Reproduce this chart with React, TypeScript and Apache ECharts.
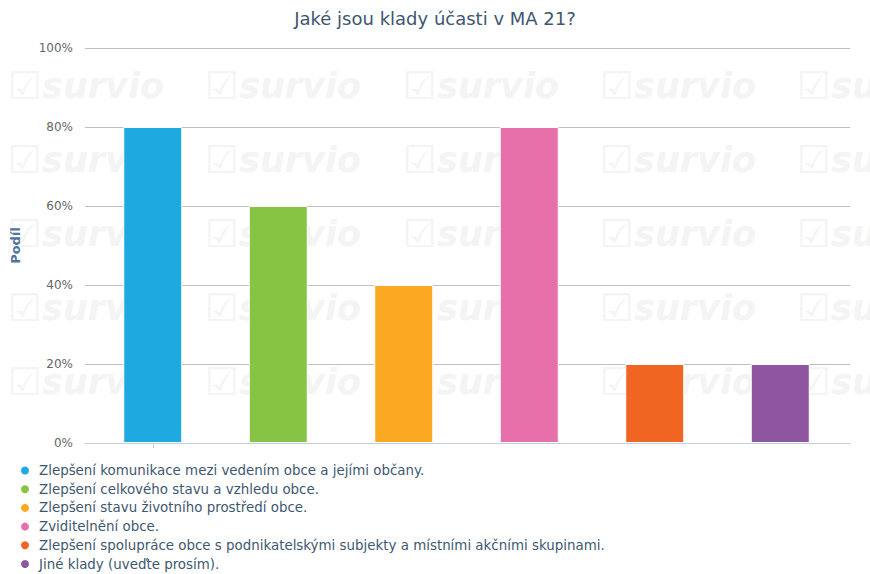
import React, { useEffect, useRef } from "react";
import * as echarts from "echarts";

const categories = [
  "Zlepšení komunikace mezi vedením obce a jejími občany.",
  "Zlepšení celkového stavu a vzhledu obce.",
  "Zlepšení stavu životního prostředí obce.",
  "Zviditelnění obce.",
  "Zlepšení spolupráce obce s podnikatelskými subjekty a místními akčními skupinami.",
  "Jiné klady (uveďte prosím).",
];
const values = [80, 60, 40, 80, 20, 20];
const colors = ["#1ea9e1", "#88c444", "#fba922", "#e76faa", "#f16522", "#8e55a1"];
const yTicks = [0, 20, 40, 60, 80, 100];

export default function App() {
  const ref = useRef<HTMLDivElement>(null);
  useEffect(() => {
    if (!ref.current) return;
    const chart = echarts.init(ref.current, undefined, { renderer: "svg" });
    const font = "DejaVu Sans, Verdana, sans-serif";

    const watermark: any[] = [];
    const colX = [8, 205, 403, 600, 797];
    const rowY = [86, 160, 234, 308, 382];
    rowY.forEach((y) =>
      colX.forEach((x) => {
        watermark.push({
          type: "text",
          x,
          y,
          z: -10,
          silent: true,
          style: {
            text: "{c|☑}{s|survio}",
            verticalAlign: "middle",
            rich: {
              c: { fontSize: 38, fontFamily: font, fill: "#f4f4f4" },
              s: {
                fontSize: 35,
                fontWeight: "bold",
                fontStyle: "italic",
                fontFamily: font,
                fill: "#f4f4f4",
              },
            },
          },
        });
      })
    );

    const series = categories.map((name, i) => ({
      name,
      type: "bar",
      xAxisIndex: 1,
      yAxisIndex: 1,
      barWidth: 59,
      barGap: "-100%",
      z: 3,
      itemStyle: { color: colors[i], borderColor: "#ffffff", borderWidth: 1 },
      data: values.map((v, j) => (j === i ? v : "-")),
    }));

    chart.setOption({
      animation: false,
      backgroundColor: "#ffffff",
      textStyle: { fontFamily: font },
      title: {
        text: "Jaké jsou klady účasti v MA 21?",
        left: "center",
        top: 4,
        textStyle: { fontSize: 18, fontWeight: "normal", color: "#3e576f", fontFamily: font },
      },
      graphic: watermark,
      legend: {
        orient: "vertical",
        left: 14,
        top: 459,
        height: 140,
        itemWidth: 10,
        itemHeight: 10,
        itemGap: 5.7,
        icon: "circle",
        data: categories,
        textStyle: { fontSize: 13.4, color: "#3e576f", fontFamily: font, padding: [0, 0, 0, 4] },
      },
      grid: [
        { left: 85, right: 20, top: 48, bottom: 131 },
        { left: 90, right: 27, top: 48, bottom: 131 },
      ],
      xAxis: [
        {
          type: "value",
          gridIndex: 0,
          min: 0,
          max: 1,
          axisLine: { show: true, lineStyle: { color: "#c0d0e0", width: 1 } },
          axisTick: { show: false },
          axisLabel: { show: false },
          splitLine: { show: false },
        },
        {
          type: "category",
          gridIndex: 1,
          data: categories,
          axisLine: { show: false },
          axisTick: { show: true, alignWithLabel: true, length: 5, lineStyle: { color: "#c0d0e0" } },
          axisLabel: { show: false },
        },
      ],
      yAxis: [
        {
          type: "value",
          gridIndex: 0,
          min: yTicks[0],
          max: yTicks[yTicks.length - 1],
          interval: 20,
          name: "Podíl",
          nameLocation: "middle",
          nameGap: 63,
          nameTextStyle: { fontSize: 13, fontWeight: "bold", color: "#4d759e", fontFamily: font },
          axisLabel: { formatter: "{value}%", fontSize: 12, color: "#666666", margin: 12, fontFamily: font },
          axisLine: { show: false },
          axisTick: { show: false },
          splitLine: { show: true, lineStyle: { color: "#c0c0c0", width: 1 } },
        },
        {
          type: "value",
          gridIndex: 1,
          min: yTicks[0],
          max: yTicks[yTicks.length - 1],
          show: false,
          splitLine: { show: false },
        },
      ],
      series,
    });
    return () => chart.dispose();
  }, []);
  return <div ref={ref} style={{ position: "absolute", left: 0, top: 0, width: 870, height: 574 }} />;
}
